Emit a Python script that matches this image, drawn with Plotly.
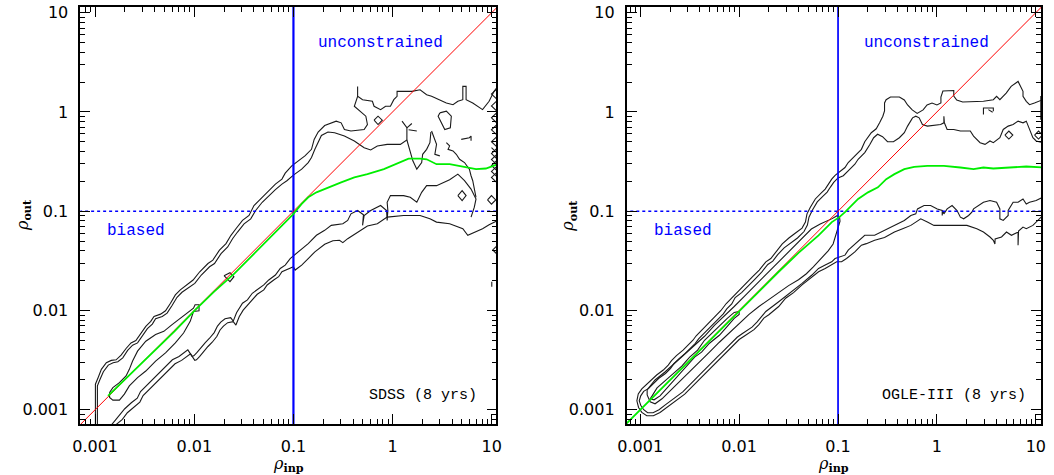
import plotly.graph_objects as go

# ---------------- axes / reference values ----------------
TICK_VALS = [0.001, 0.01, 0.1, 1, 10]
TICK_TEXT = ["0.001", "0.01", "0.1", "1", "10"]
X_RANGE_LEFT = [-3.149, 1.047]     # log10 units
X_RANGE_RIGHT = [-3.137, 1.053]
Y_RANGE = [-3.143, 1.057]
DIAG_X = [0.0006, 12.0]            # rho_out = rho_inp
THRESHOLD = 0.1

# ---------------- SDSS panel (log10 rho_inp, log10 rho_out) ----------------
sdss_lvl1_upper = [(-2.997,-3.16),(-2.997,-2.743),(-2.970,-2.677),(-2.937,-2.593),(-2.887,-2.527),(-2.837,-2.503),(-2.788,-2.497),(-2.738,-2.45),(-2.688,-2.383),(-2.638,-2.327),(-2.589,-2.303),(-2.539,-2.227),(-2.489,-2.16),(-2.439,-2.11),(-2.406,-2.06),(-2.340,-2.037),(-2.290,-2.003),(-2.240,-1.927),(-2.191,-1.843),(-2.141,-1.793),(-2.078,-1.743),(-2.012,-1.693),(-1.945,-1.61),(-1.862,-1.527),(-1.813,-1.493),(-1.779,-1.443),(-1.746,-1.393),(-1.680,-1.327),(-1.630,-1.243),(-1.580,-1.177),(-1.514,-1.093),(-1.448,-1.043),(-1.398,-0.943),(-1.348,-0.893),(-1.282,-0.827),(-1.216,-0.76),(-1.182,-0.727),(-1.116,-0.677),(-1.083,-0.617),(-1.017,-0.543),(-0.934,-0.477),(-0.884,-0.443),(-0.818,-0.377),(-0.791,-0.277),(-0.751,-0.203),(-0.685,-0.137),(-0.569,-0.093),(-0.519,-0.11),(-0.486,-0.177),(-0.420,-0.193),(-0.287,-0.177),(-0.254,-0.127),(-0.270,-0.043),(-0.353,0.023),(-0.386,0.057),(-0.353,0.157),(-0.353,0.257),(-0.353,0.157),(-0.303,0.123),(-0.204,0.107),(-0.187,0.057),(-0.121,0.023),(-0.071,0.057),(-0.022,0.057),(0.012,0.123),(0.045,0.157),(0.045,0.207),(0.194,0.207),(0.277,0.223),(0.343,0.173),(0.393,0.157),(0.476,0.123),(0.542,0.09),(0.609,0.073),(0.658,0.107),(0.708,0.123),(0.708,0.257),(0.741,0.257),(0.741,0.123),(0.808,0.09),(0.907,0.023),(0.973,0.107),(1.023,0.207),(1.06,0.257)]
sdss_lvl2_upper = [(-2.977,-3.16),(-2.977,-2.76),(-2.950,-2.693),(-2.917,-2.617),(-2.867,-2.55),(-2.818,-2.527),(-2.771,-2.517),(-2.721,-2.477),(-2.672,-2.403),(-2.622,-2.35),(-2.572,-2.327),(-2.522,-2.25),(-2.473,-2.183),(-2.423,-2.137),(-2.390,-2.083),(-2.323,-2.06),(-2.274,-2.027),(-2.224,-1.95),(-2.174,-1.867),(-2.124,-1.817),(-2.061,-1.777),(-1.995,-1.727),(-1.929,-1.643),(-1.846,-1.56),(-1.796,-1.527),(-1.763,-1.477),(-1.730,-1.427),(-1.663,-1.36),(-1.614,-1.277),(-1.564,-1.21),(-1.498,-1.127),(-1.431,-1.077),(-1.381,-0.993),(-1.315,-0.91),(-1.249,-0.843),(-1.182,-0.783),(-1.116,-0.727),(-1.066,-0.693),(-1.000,-0.637),(-0.917,-0.577),(-0.851,-0.51),(-0.818,-0.46),(-0.784,-0.377),(-0.751,-0.31),(-0.718,-0.237),(-0.652,-0.203),(-0.585,-0.21),(-0.486,-0.243),(-0.386,-0.293),(-0.287,-0.36),(-0.221,-0.383),(-0.154,-0.343),(-0.055,-0.327),(0.078,-0.327),(0.144,-0.283),(0.144,-0.16),(0.095,-0.093)]
sdss_lvl2_branch = [(0.144,-0.283),(0.184,-0.41),(0.204,-0.493),(0.244,-0.577),(0.293,-0.51),(0.303,-0.427),(0.343,-0.377),(0.376,-0.31),(0.386,-0.203)]
sdss_lvl1_lower = [(-2.801,-3.16),(-2.725,-3.097),(-2.675,-3.03),(-2.609,-2.97),(-2.549,-2.923),(-2.516,-2.857),(-2.466,-2.807),(-2.416,-2.757),(-2.360,-2.703),(-2.303,-2.643),(-2.250,-2.59),(-2.194,-2.537),(-2.128,-2.503),(-2.078,-2.463),(-2.038,-2.437),(-1.995,-2.503),(-1.978,-2.497),(-1.945,-2.463),(-1.905,-2.413),(-1.862,-2.363),(-1.819,-2.32),(-1.773,-2.263),(-1.740,-2.197),(-1.706,-2.157),(-1.663,-2.123),(-1.607,-2.113),(-1.580,-2.147),(-1.547,-2.063),(-1.507,-1.997),(-1.464,-1.947),(-1.415,-1.89),(-1.365,-1.837),(-1.299,-1.793),(-1.265,-1.743),(-1.199,-1.693),(-1.149,-1.66),(-1.116,-1.61),(-1.050,-1.577),(-1.000,-1.56),(-0.983,-1.593),(-0.917,-1.543),(-0.851,-1.477),(-0.784,-1.41),(-0.685,-1.333),(-0.602,-1.297),(-0.536,-1.293),(-0.502,-1.317),(-0.453,-1.277),(-0.353,-1.21),(-0.254,-1.15),(-0.154,-1.127),(-0.055,-1.06),(0.111,-1.043),(0.277,-1.043),(0.376,-1.077),(0.443,-1.11),(0.575,-1.127),(0.708,-1.177),(0.758,-1.243),(0.841,-1.21),(0.907,-1.177),(0.973,-1.137),(1.06,-1.093)]
sdss_lvl2_lower = [(-2.841,-3.16),(-2.751,-3.057),(-2.701,-2.99),(-2.635,-2.93),(-2.575,-2.883),(-2.542,-2.817),(-2.493,-2.767),(-2.443,-2.717),(-2.386,-2.663),(-2.330,-2.603),(-2.277,-2.55),(-2.221,-2.497),(-2.154,-2.463),(-2.104,-2.423),(-2.065,-2.397),(-2.022,-2.463),(-2.005,-2.457),(-1.972,-2.423),(-1.932,-2.373),(-1.889,-2.323),(-1.846,-2.28),(-1.799,-2.223),(-1.766,-2.157),(-1.733,-2.117),(-1.690,-2.083),(-1.633,-2.073),(-1.607,-2.107),(-1.574,-2.023),(-1.514,-1.927),(-1.464,-1.893),(-1.415,-1.827),(-1.348,-1.777),(-1.299,-1.743),(-1.249,-1.693),(-1.182,-1.643),(-1.133,-1.577),(-1.083,-1.543),(-1.033,-1.477),(-0.983,-1.437),(-0.917,-1.377),(-0.851,-1.327),(-0.768,-1.243),(-0.685,-1.193),(-0.619,-1.143),(-0.552,-1.137),(-0.502,-1.127),(-0.453,-1.093),(-0.420,-1.027),(-0.353,-0.993),(-0.294,-1.037),(-0.303,-1.143),(-0.287,-1.043),(-0.221,-0.993),(-0.121,-0.943),(-0.061,-0.993),(-0.055,-1.093),(-0.048,-0.993),(-0.055,-0.91),(-0.022,-0.843),(0.111,-0.843),(0.178,-0.86),(0.244,-0.91),(0.293,-0.81),(0.343,-0.743),(0.443,-0.743),(0.575,-0.683),(0.658,-0.627),(0.725,-0.693),(0.791,-0.777),(0.841,-0.877),(0.824,-0.96),(0.791,-1.06)]
sdss_lvl3 = [(-2.854,-2.827),(-2.821,-2.777),(-2.755,-2.727),(-2.688,-2.66),(-2.655,-2.593),(-2.622,-2.51),(-2.572,-2.41),(-2.489,-2.31),(-2.39,-2.243),(-2.307,-2.21),(-2.224,-2.143),(-2.158,-2.093),(-2.091,-2.043),(-2.008,-1.977),(-1.992,-1.943),(-1.952,-1.943),(-1.952,-2.003),(-2.008,-2.01),(-2.041,-2.11),(-2.108,-2.227),(-2.191,-2.327),(-2.29,-2.427),(-2.39,-2.51),(-2.489,-2.61),(-2.572,-2.677),(-2.655,-2.76),(-2.705,-2.843),(-2.755,-2.903),(-2.821,-2.903),(-2.854,-2.877),(-2.854,-2.827)]
sdss_islands = [
    [(-1.70,-1.65),(-1.64,-1.62),(-1.60,-1.66),(-1.64,-1.71),(-1.70,-1.65)],
    [(0.476,-0.01),(0.542,0.007),(0.592,-0.043),(0.582,-0.16),(0.526,-0.177),(0.483,-0.093),(0.459,-0.043),(0.476,-0.01)],
    [(-0.187,-0.083),(-0.147,-0.043),(-0.104,-0.083),(-0.147,-0.127),(-0.187,-0.083)],
    [(0.658,-0.843),(0.701,-0.793),(0.741,-0.843),(0.701,-0.893),(0.658,-0.843)],
    [(0.957,-0.887),(0.997,-0.843),(1.040,-0.887),(0.997,-0.93),(0.957,-0.887)],
    [(0.144,-0.16),(0.194,-0.117)],
    [(0.161,-0.18),(0.244,-0.193)],
    [(0.393,-0.193),(0.443,-0.327),(0.426,-0.427),(0.476,-0.443)],
    [(0.542,-0.31),(0.575,-0.343),(0.559,-0.377),(0.609,-0.393),(0.642,-0.427),(0.675,-0.477),(0.725,-0.51),(0.774,-0.577),(0.791,-0.643),(0.808,-0.693),(0.841,-0.86)],
    [(0.692,-0.277),(0.774,-0.26),(0.791,-0.243),(0.791,-0.29)],
    [(1.06,0.24),(0.997,0.18),(1.06,0.12),(0.997,0.06),(1.06,0.0),(0.997,-0.06),(1.06,-0.12),(0.997,-0.18),(1.06,-0.24),(0.997,-0.30),(1.06,-0.36),(0.997,-0.42),(1.06,-0.48),(0.997,-0.54),(1.06,-0.60),(0.997,-0.66),(1.06,-0.72)],
    [(0.997,-0.36),(1.06,-0.42),(0.997,-0.48),(1.06,-0.54),(0.997,-0.60),(1.06,-0.66)],
    [(1.06,-1.34),(1.01,-1.39),(1.06,-1.44)],
    [(1.0,-1.71),(1.0,-1.76)],
]
sdss_median = [(-2.87,-2.86),(-2.54,-2.543),(-2.2,-2.21),(-1.99,-1.993),(-1.8,-1.81),(-1.594,-1.627),(-1.282,-1.31),(-1.083,-1.11),(-1.007,-1.035),(-0.917,-0.927),(-0.851,-0.86),(-0.768,-0.81),(-0.652,-0.76),(-0.519,-0.71),(-0.386,-0.66),(-0.254,-0.627),(-0.088,-0.577),(0.078,-0.51),(0.161,-0.47),(0.277,-0.47),(0.343,-0.477),(0.443,-0.527),(0.575,-0.527),(0.708,-0.55),(0.841,-0.577),(0.94,-0.57),(1.06,-0.527)]

# ---------------- OGLE-III panel ----------------
ogle_lvl1_upper = [(-3.02,-2.84),(-2.984,-2.79),(-2.934,-2.75),(-2.884,-2.70),(-2.834,-2.65),(-2.767,-2.60),(-2.717,-2.55),(-2.684,-2.505),(-2.634,-2.455),(-2.567,-2.40),(-2.517,-2.35),(-2.467,-2.30),(-2.434,-2.255),(-2.384,-2.205),(-2.334,-2.155),(-2.284,-2.10),(-2.234,-2.05),(-2.184,-2.0),(-2.13,-1.93),(-2.064,-1.86),(-1.997,-1.793),(-1.930,-1.727),(-1.864,-1.66),(-1.797,-1.593),(-1.730,-1.51),(-1.680,-1.477),(-1.630,-1.41),(-1.564,-1.33),(-1.497,-1.27),(-1.430,-1.22),(-1.364,-1.17),(-1.330,-1.11),(-1.314,-1.027),(-1.280,-0.96),(-1.230,-0.877),(-1.197,-0.843),(-1.164,-0.81),(-1.130,-0.777),(-1.097,-0.73),(-1.064,-0.677),(-1.030,-0.64),(-0.980,-0.60),(-0.930,-0.56),(-0.897,-0.51),(-0.830,-0.443),(-0.764,-0.377),(-0.730,-0.3),(-0.697,-0.26),(-0.664,-0.21),(-0.614,-0.17),(-0.580,-0.11),(-0.547,-0.043),(-0.53,0.01),(-0.53,0.09),(-0.514,0.123),(-0.47,0.15),(-0.38,0.15),(-0.33,0.12),(-0.297,0.07),(-0.25,0.02),(-0.2,-0.015),(-0.14,0.02),(-0.1,0.07),(-0.05,0.09),(0.0,0.07),(0.04,0.09),(0.04,0.15),(0.06,0.21),(0.12,0.215),(0.17,0.215),(0.17,0.16),(0.2,0.12),(0.26,0.1),(0.36,0.1),(0.47,0.107),(0.57,0.123),(0.603,0.157),(0.636,0.123),(0.70,0.19),(0.75,0.257),(0.82,0.307),(0.87,0.207),(0.87,0.157),(0.903,0.107),(0.936,0.073),(0.986,0.09),(1.036,0.107),(1.07,0.123)]
ogle_lvl1_lower = [(-3.02,-2.84),(-3.034,-2.91),(-3.017,-2.977),(-2.984,-3.027),(-2.934,-3.06),(-2.867,-3.06),(-2.80,-3.027),(-2.734,-2.977),(-2.667,-2.927),(-2.60,-2.877),(-2.55,-2.843),(-2.50,-2.793),(-2.45,-2.743),(-2.40,-2.693),(-2.35,-2.643),(-2.30,-2.593),(-2.25,-2.543),(-2.20,-2.493),(-2.15,-2.443),(-2.10,-2.393),(-2.05,-2.343),(-2.00,-2.293),(-1.95,-2.26),(-1.90,-2.227),(-1.85,-2.193),(-1.80,-2.143),(-1.75,-2.077),(-1.70,-2.043),(-1.65,-2.0),(-1.6,-1.96),(-1.53,-1.877),(-1.45,-1.82),(-1.364,-1.743),(-1.28,-1.68),(-1.197,-1.61),(-1.13,-1.577),(-1.047,-1.527),(-1.014,-1.51),(-0.964,-1.51),(-0.914,-1.477),(-0.83,-1.41),(-0.764,-1.343),(-0.714,-1.327),(-0.63,-1.293),(-0.53,-1.265),(-0.43,-1.21),(-0.347,-1.177),(-0.264,-1.143),(-0.214,-1.11),(-0.164,-1.077),(-0.097,-1.11),(-0.03,-1.143),(0.086,-1.143),(0.303,-1.143),(0.403,-1.177),(0.47,-1.21),(0.536,-1.26),(0.57,-1.293),(0.586,-1.33),(0.588,-1.28),(0.653,-1.26),(0.703,-1.21),(0.753,-1.243),(0.82,-1.21),(0.82,-1.343),(0.825,-1.2),(0.87,-1.16),(0.903,-1.177),(0.97,-1.143),(1.02,-1.093),(1.07,-1.043)]
ogle_lvl2_upper = [(-2.995,-2.86),(-2.965,-2.815),(-2.915,-2.785),(-2.862,-2.735),(-2.812,-2.683),(-2.745,-2.635),(-2.695,-2.585),(-2.66,-2.535),(-2.61,-2.487),(-2.545,-2.433),(-2.495,-2.385),(-2.445,-2.333),(-2.41,-2.287),(-2.36,-2.235),(-2.31,-2.185),(-2.26,-2.133),(-2.21,-2.085),(-2.16,-2.035),(-2.125,-1.985),(-2.075,-1.935),(-2.04,-1.87),(-1.975,-1.82),(-1.91,-1.752),(-1.842,-1.687),(-1.777,-1.62),(-1.71,-1.537),(-1.66,-1.503),(-1.61,-1.437),(-1.545,-1.37),(-1.477,-1.32),(-1.41,-1.27),(-1.344,-1.205),(-1.31,-1.14),(-1.294,-1.06),(-1.26,-0.99),(-1.21,-0.907),(-1.177,-0.873),(-1.144,-0.84),(-1.11,-0.807),(-1.077,-0.757),(-1.044,-0.71),(-1.0,-0.665),(-0.947,-0.643),(-0.88,-0.577),(-0.83,-0.527),(-0.797,-0.477),(-0.73,-0.41),(-0.68,-0.33),(-0.64,-0.26),(-0.60,-0.225),(-0.55,-0.25),(-0.5,-0.30),(-0.44,-0.30),(-0.38,-0.26),(-0.33,-0.21),(-0.297,-0.143),(-0.247,-0.06),(-0.214,-0.043),(-0.18,-0.06),(-0.147,-0.127),(-0.097,-0.143),(0.037,-0.127),(0.07,-0.11),(0.07,-0.043),(0.075,-0.11),(0.103,-0.177),(0.17,-0.177),(0.237,-0.193),(0.337,-0.193),(0.37,-0.243),(0.436,-0.31),(0.486,-0.327),(0.536,-0.293),(0.57,-0.31),(0.636,-0.26),(0.67,-0.177),(0.72,-0.143),(0.77,-0.127),(0.82,-0.093),(0.87,-0.11),(0.903,-0.093),(0.936,-0.177),(0.97,-0.26),(1.003,-0.293),(1.07,-0.31)]
ogle_lvl2_lower = [(-2.995,-2.86),(-3.01,-2.91),(-2.995,-2.955),(-2.965,-3.0),(-2.925,-3.03),(-2.87,-3.03),(-2.81,-3.0),(-2.75,-2.953),(-2.685,-2.903),(-2.62,-2.853),(-2.57,-2.82),(-2.52,-2.77),(-2.47,-2.718),(-2.42,-2.668),(-2.37,-2.62),(-2.32,-2.568),(-2.27,-2.52),(-2.22,-2.468),(-2.17,-2.42),(-2.12,-2.368),(-2.07,-2.32),(-2.02,-2.27),(-1.97,-2.235),(-1.92,-2.2),(-1.87,-2.168),(-1.82,-2.118),(-1.77,-2.053),(-1.73,-2.01),(-1.597,-1.91),(-1.464,-1.81),(-1.364,-1.727),(-1.264,-1.643),(-1.197,-1.577),(-1.13,-1.543),(-1.064,-1.51),(-1.03,-1.477),(-0.98,-1.46),(-0.93,-1.443),(-0.897,-1.393),(-0.83,-1.33),(-0.73,-1.243),(-0.63,-1.243),(-0.53,-1.193),(-0.43,-1.143),(-0.33,-1.093),(-0.264,-1.043),(-0.214,-1.027),(-0.197,-0.977),(-0.13,-0.943),(-0.064,-0.943),(0.003,-0.977),(0.053,-0.993),(0.053,-1.043),(0.058,-0.995),(0.07,-1.027),(0.103,-0.977),(0.153,-0.943),(0.203,-0.993),(0.237,-1.06),(0.27,-1.077),(0.32,-1.043),(0.353,-1.01),(0.37,-0.977),(0.42,-0.943),(0.47,-0.91),(0.536,-0.893),(0.603,-0.91),(0.636,-0.977),(0.636,-1.077),(0.67,-1.093),(0.72,-1.043),(0.72,-0.993),(0.77,-0.91),(0.82,-0.91),(0.87,-0.877),(0.903,-0.927),(0.936,-0.91),(1.003,-0.893),(1.07,-0.86)]
ogle_lvl3 = [(-2.93,-2.80),(-2.85,-2.70),(-2.75,-2.62),(-2.65,-2.53),(-2.55,-2.45),(-2.45,-2.35),(-2.35,-2.26),(-2.25,-2.15),(-2.15,-2.06),(-2.05,-1.96),(-1.95,-1.86),(-1.85,-1.76),(-1.75,-1.65),(-1.65,-1.56),(-1.55,-1.45),(-1.45,-1.35),(-1.35,-1.26),(-1.27,-1.18),(-1.18,-1.13),(-1.13,-1.11),(-1.06,-1.075),(-1.01,-1.045),(-0.985,-1.06),(-0.98,-1.10),(-1.0,-1.17),(-1.02,-1.25),(-1.05,-1.33),(-1.1,-1.40),(-1.17,-1.48),(-1.25,-1.56),(-1.32,-1.63),(-1.4,-1.69),(-1.5,-1.75),(-1.6,-1.82),(-1.7,-1.89),(-1.8,-1.96),(-1.9,-2.04),(-2.0,-2.13),(-2.1,-2.22),(-2.2,-2.32),(-2.3,-2.42),(-2.4,-2.52),(-2.5,-2.62),(-2.6,-2.72),(-2.7,-2.81),(-2.78,-2.89),(-2.85,-2.94),(-2.90,-2.92),(-2.93,-2.85),(-2.93,-2.80)]
ogle_lvl4 = [(-2.88,-2.86),(-2.83,-2.78),(-2.75,-2.71),(-2.65,-2.62),(-2.58,-2.56),(-2.5,-2.47),(-2.42,-2.40),(-2.35,-2.30),(-2.27,-2.22),(-2.2,-2.15),(-2.12,-2.08),(-2.05,-2.02),(-2.0,-2.01),(-2.0,-2.04),(-2.05,-2.08),(-2.12,-2.16),(-2.2,-2.25),(-2.3,-2.33),(-2.38,-2.42),(-2.45,-2.47),(-2.55,-2.58),(-2.65,-2.70),(-2.73,-2.78),(-2.80,-2.86),(-2.86,-2.90),(-2.9,-2.89),(-2.88,-2.86)]
ogle_islands = [
    [(0.687,-0.233),(0.727,-0.193),(0.767,-0.233),(0.727,-0.273),(0.687,-0.233)],
    [(0.987,-0.233),(1.027,-0.193),(1.067,-0.233),(1.027,-0.273),(0.987,-0.233)],
    [(0.47,-0.027),(0.47,0.04),(0.57,0.04),(0.57,0.007)],
    [(0.52,0.023),(0.563,-0.003)],
    [(1.05,0.16),(1.05,-0.08)],
]
ogle_median = [(-3.15,-3.15),(-2.5,-2.5),(-2.0,-2.0),(-1.6,-1.61),(-1.4,-1.42),(-1.197,-1.243),(-1.063,-1.11),(-0.987,-1.06),(-0.93,-1.01),(-0.863,-0.943),(-0.797,-0.877),(-0.697,-0.81),(-0.597,-0.76),(-0.513,-0.677),(-0.43,-0.627),(-0.33,-0.577),(-0.23,-0.553),(-0.097,-0.543),(0.07,-0.543),(0.237,-0.56),(0.37,-0.577),(0.47,-0.56),(0.57,-0.57),(0.736,-0.56),(0.903,-0.55),(1.07,-0.56)]

# ---------------- figure ----------------
fig = go.Figure()

def add_path(pts, xa, ya, color="#1a1a1a", width=1.1, dash="solid"):
    fig.add_trace(go.Scatter(
        x=[10 ** p[0] for p in pts], y=[10 ** p[1] for p in pts],
        mode="lines", line=dict(color=color, width=width, dash=dash),
        xaxis=xa, yaxis=ya, hoverinfo="skip", showlegend=False))

def closed(upper, lower):
    return list(reversed(upper)) + lower

panels = [
    ("x", "y", [sdss_lvl1_upper, sdss_lvl1_lower, sdss_lvl2_upper, sdss_lvl2_lower,
                sdss_lvl2_branch, sdss_lvl3] + sdss_islands, sdss_median, 2.2),
    ("x2", "y2", [closed(ogle_lvl1_upper, ogle_lvl1_lower), closed(ogle_lvl2_upper, ogle_lvl2_lower),
                  ogle_lvl3, ogle_lvl4] + ogle_islands, ogle_median, 1.7),
]

for xa, ya, contours, median, vw in panels:
    for c in contours:
        add_path(c, xa, ya)
    fig.add_trace(go.Scatter(x=[THRESHOLD, THRESHOLD], y=DIAG_X, mode="lines",
                             line=dict(color="#0000ff", width=vw), xaxis=xa, yaxis=ya,
                             hoverinfo="skip", showlegend=False))
    fig.add_trace(go.Scatter(x=DIAG_X, y=[THRESHOLD, THRESHOLD], mode="lines",
                             line=dict(color="#0000ff", width=1.5, dash="dot"), xaxis=xa, yaxis=ya,
                             hoverinfo="skip", showlegend=False))
    fig.add_trace(go.Scatter(x=DIAG_X, y=DIAG_X, mode="lines", line=dict(color="#ff0000", width=1),
                             xaxis=xa, yaxis=ya, hoverinfo="skip", showlegend=False))
    add_path(median, xa, ya, color="#00ee00", width=1.8)

W, H = 1054, 475
axis_common = dict(
    type="log", tickmode="array", tickvals=TICK_VALS, ticktext=TICK_TEXT,
    ticks="inside", ticklen=10, tickwidth=1, tickcolor="black",
    showline=True, linecolor="black", linewidth=1.8, mirror="ticks",
    showgrid=False, zeroline=False, ticklabeloverflow="allow",
    tickfont=dict(family="DejaVu Sans", size=16, color="black"),
    minor=dict(ticks="inside", ticklen=5, tickwidth=1, tickcolor="black", dtick="D1", showgrid=False),
    ticklabelstandoff=7,
)
y_dom = [1 - 423.5 / H, 1 - 3.0 / H]
fig.update_layout(
    width=W, height=H, margin=dict(l=0, r=0, t=0, b=0),
    paper_bgcolor="white", plot_bgcolor="white", showlegend=False,
    xaxis=dict(domain=[72.3 / W, 494.0 / W], range=X_RANGE_LEFT, anchor="y", **axis_common),
    yaxis=dict(domain=y_dom, range=Y_RANGE, anchor="x", **axis_common),
    xaxis2=dict(domain=[626.0 / W, 1046.0 / W], range=X_RANGE_RIGHT, anchor="y2", **axis_common),
    yaxis2=dict(domain=y_dom, range=Y_RANGE, anchor="x2", **axis_common),
)

def ann(text, px, py, color="black", size=15, family="Liberation Mono", angle=0):
    fig.add_annotation(text=text, x=px / W, y=1 - py / H, xref="paper", yref="paper",
                       showarrow=False, xanchor="center", yanchor="middle", textangle=angle,
                       font=dict(family=family, size=size, color=color))

rho_in = "<i>ρ</i><sub><b>inp</b></sub>"
rho_out = "<i>ρ</i><sub><b>out</b></sub>"
ann(rho_in, 283, 464, family="DejaVu Serif", size=16)
ann(rho_in, 836, 464, family="DejaVu Serif", size=16)
ann(rho_out, 14, 213, family="DejaVu Serif", size=16, angle=-90)
ann(rho_out, 567, 213, family="DejaVu Serif", size=16, angle=-90)

ann("unconstrained", 376.7, 39, color="#0000ff", size=16)
ann("unconstrained", 930, 39, color="#0000ff", size=16)
ann("biased", 129, 229, color="#0000ff", size=16)
ann("biased", 683, 229, color="#0000ff", size=16)
ann("SDSS (8 yrs)", 420, 395, size=15)
ann("OGLE-III (8 yrs)", 958, 395, size=15)

fig.write_html("out.html", config={"displayModeBar": False},
               post_script="document.body.style.margin='0';document.body.style.overflow='hidden';")
